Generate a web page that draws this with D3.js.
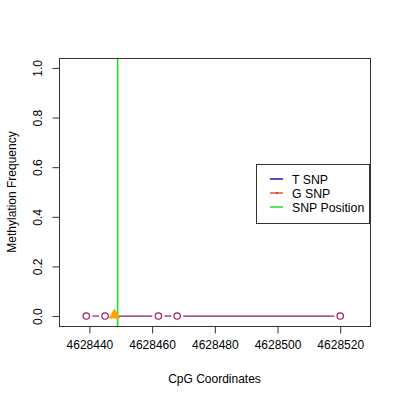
<!DOCTYPE html>
<html>
<head>
<meta charset="utf-8">
<script src="https://cdn.jsdelivr.net/npm/d3@7"></script>
<style>
  body { margin: 0; background: #fff; }
  text { font-family: "Liberation Sans", Arial, sans-serif; font-size: 12px; fill: #000; }
</style>
</head>
<body>
<div id="chart"></div>
<script>

// CpG sites and methylation
var cpgPositions = [4628439, 4628445, 4628462, 4628468, 4628520];
var methylation = [0, 0, 0, 0, 0];
// SNP CpG marker and SNP line
var snpCpgPositions = [4628448];
var snpCpgValues = [0];
var snpPosition = 4628449;

var xTicks = [4628440, 4628460, 4628480, 4628500, 4628520];
var yTicks = [0, 0.2, 0.4, 0.6, 0.8, 1.0];
var legendLabels = ["T SNP", "G SNP", "SNP Position"];
var legendColors = ["#1a1aaa", "#ff4444", "#22dd22"];

var width = 400, height = 400;
var margin = {top: 58, right: 30, bottom: 74, left: 59};

var svg = d3.select("#chart").append("svg")
    .attr("width", width)
    .attr("height", height);

var x = d3.scaleLinear()
    .domain([4628430.3, 4628529.5])
    .range([margin.left, width - margin.right]);

var y = d3.scaleLinear()
    .domain([-0.04, 1.04])
    .range([height - margin.bottom, margin.top]);

var lineColor = "#9a1a5c";

// snp position line
var snpX = x(snpPosition);
svg.append("line")
    .attr("x1", snpX).attr("x2", snpX)
    .attr("y1", margin.top).attr("y2", height - margin.bottom)
    .attr("stroke", "#22dd22")
    .attr("stroke-width", 1.6);

// lines between points (type "b", gaps around points)
var gap = 6;
for (var i = 0; i < cpgPositions.length - 1; i++) {
    var x1 = x(cpgPositions[i]), y1 = y(methylation[i]);
    var x2 = x(cpgPositions[i + 1]), y2 = y(methylation[i + 1]);
    var len = Math.sqrt((x2 - x1) * (x2 - x1) + (y2 - y1) * (y2 - y1));
    if (len > 2 * gap) {
        var dx = (x2 - x1) / len, dy = (y2 - y1) / len;
        svg.append("line")
            .attr("x1", x1 + dx * gap).attr("y1", y1 + dy * gap)
            .attr("x2", x2 - dx * gap).attr("y2", y2 - dy * gap)
            .attr("stroke", lineColor)
            .attr("stroke-width", 1.2);
    }
}

svg.selectAll("circle.pt")
    .data(cpgPositions)
    .enter().append("circle")
    .attr("class", "pt")
    .attr("cx", function(d) { return x(d); })
    .attr("cy", function(d, i) { return y(methylation[i]); })
    .attr("r", 3.2)
    .attr("fill", "none")
    .attr("stroke", lineColor)
    .attr("stroke-width", 1.2);

svg.selectAll("path.snp")
    .data(snpCpgPositions)
    .enter().append("path")
    .attr("class", "snp")
    .attr("d", d3.symbol().type(d3.symbolTriangle).size(45))
    .attr("transform", function(d, i) { return "translate(" + x(d) + "," + (y(snpCpgValues[i]) - 1) + ")"; })
    .attr("fill", "#ffa500")
    .attr("stroke", "#ffa500");

// box
svg.append("rect")
    .attr("x", margin.left + 0.5).attr("y", margin.top + 0.5)
    .attr("width", width - margin.right - margin.left)
    .attr("height", height - margin.bottom - margin.top)
    .attr("fill", "none")
    .attr("stroke", "#333");

// x axis
var xAxis = svg.append("g")
    .attr("transform", "translate(0," + (height - margin.bottom + 0.5) + ")")
    .call(d3.axisBottom(x).tickValues(xTicks).tickFormat(d3.format("d")).tickSize(7).tickPadding(7));
xAxis.select(".domain")
    .attr("d", "M" + x(xTicks[0]) + ",0H" + x(xTicks[xTicks.length - 1]))
    .attr("stroke", "#333");
xAxis.selectAll(".tick line").attr("stroke", "#333");
xAxis.selectAll("text").style("font-size", "12px").attr("font-family", null);

// y axis
var yAxis = svg.append("g")
    .attr("transform", "translate(" + (margin.left + 0.5) + ",0)")
    .call(d3.axisLeft(y).tickValues(yTicks).tickFormat(d3.format(".1f")).tickSize(7).tickPadding(0));
yAxis.select(".domain")
    .attr("d", "M0," + y(yTicks[0]) + "V" + y(yTicks[yTicks.length - 1]))
    .attr("stroke", "#333");
yAxis.selectAll(".tick line").attr("stroke", "#333");
yAxis.selectAll(".tick text")
    .attr("x", null).attr("dy", null)
    .attr("text-anchor", "middle")
    .attr("transform", "translate(-18,0) rotate(-90)")
    .style("font-size", "12px").attr("font-family", null);

// axis titles
svg.append("text")
    .attr("x", (margin.left + width - margin.right) / 2)
    .attr("y", 383)
    .attr("text-anchor", "middle")
    .text("CpG Coordinates");

svg.append("text")
    .attr("transform", "translate(16," + ((margin.top + height - margin.bottom) / 2) + ") rotate(-90)")
    .attr("text-anchor", "middle")
    .text("Methylation Frequency");

// legend
var legend = svg.append("g").attr("transform", "translate(256,164)");
legend.append("rect")
    .attr("x", 0.5).attr("y", 0.5)
    .attr("width", 113).attr("height", 59)
    .attr("fill", "#fff")
    .attr("stroke", "#333");

var rows = legend.selectAll("g.row")
    .data(legendLabels)
    .enter().append("g")
    .attr("class", "row")
    .attr("transform", function(d, i) { return "translate(0," + (15 + i * 14) + ")"; });

rows.append("line")
    .attr("x1", 14).attr("x2", 27)
    .attr("y1", 0).attr("y2", 0)
    .attr("stroke", function(d, i) { return legendColors[i]; })
    .attr("stroke-width", 1.5);

rows.filter(function(d, i) { return i === 1; })
    .append("rect")
    .attr("x", 20).attr("y", -0.75).attr("width", 1.5).attr("height", 1.5)
    .attr("fill", "#aa2222");

rows.append("text")
    .attr("x", 36)
    .attr("y", 4.5)
    .style("font-size", "12.3px")
    .text(function(d) { return d; });

</script>
</body>
</html>
